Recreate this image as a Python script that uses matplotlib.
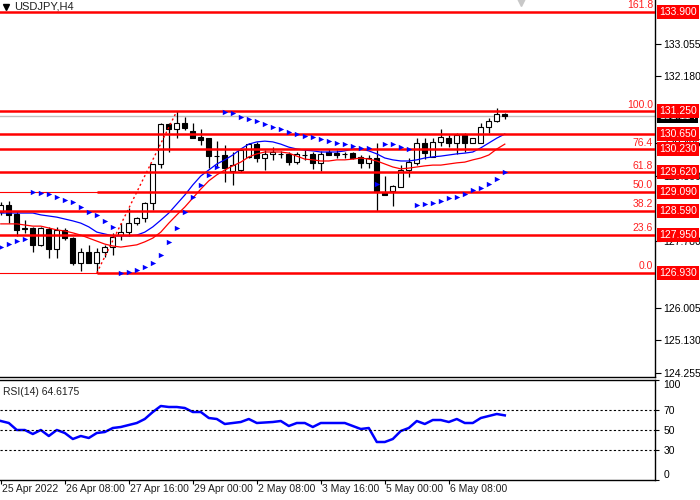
import matplotlib.pyplot as plt
from matplotlib.transforms import blended_transform_factory

plt.rcParams['font.family'] = ['Liberation Sans', 'DejaVu Sans']

# USDJPY H4 bars, first bar = 25 Apr 2022 00:00
opens = [128.56, 128.74, 128.50, 128.13, 128.13, 127.68, 128.10, 127.57, 128.08, 127.86,
         127.19, 127.49, 127.19, 127.49, 127.62, 127.94, 128.02, 128.26, 128.40, 128.80,
         129.84, 130.91, 130.77, 130.94, 130.72, 130.56, 130.53, 130.05, 130.08, 129.65,
         129.68, 130.03, 130.37, 130.00, 130.11, 130.11, 130.11, 129.89, 130.08, 130.11,
         129.87, 130.16, 130.13, 130.11, 130.13, 130.03, 129.87, 130.00, 129.06, 129.12,
         129.22, 129.68, 129.87, 130.40, 130.03, 130.43, 130.53, 130.40, 130.61, 130.40,
         130.40, 130.83, 130.99, 131.18]
highs = [128.82, 128.85, 128.58, 128.34, 128.16, 128.16, 128.16, 128.16, 128.13, 127.89,
         127.60, 127.68, 127.60, 127.68, 128.00, 128.26, 128.66, 128.42, 128.82, 129.84,
         130.94, 130.94, 131.25, 131.10, 130.94, 130.77, 130.53, 130.45, 130.35, 130.16,
         130.21, 130.40, 130.43, 130.21, 130.29, 130.19, 130.16, 130.16, 130.24, 130.16,
         130.19, 130.24, 130.21, 130.16, 130.16, 130.08, 130.08, 130.40, 129.52, 129.28,
         129.81, 130.00, 130.53, 130.53, 130.53, 130.77, 130.61, 130.67, 130.67, 130.53,
         130.94, 131.07, 131.34, 131.20]
lows = [128.48, 128.26, 127.92, 128.00, 127.49, 127.65, 127.33, 127.33, 127.81, 127.14,
        126.98, 127.19, 126.93, 127.36, 127.41, 127.81, 127.92, 128.21, 128.29, 128.61,
        129.73, 130.16, 130.53, 130.75, 130.53, 130.35, 129.73, 129.76, 129.36, 129.28,
        129.63, 130.00, 129.89, 129.68, 129.95, 130.00, 129.81, 129.84, 129.95, 129.71,
        129.65, 130.08, 130.00, 130.00, 129.97, 129.73, 129.73, 128.58, 129.01, 128.72,
        129.22, 129.49, 129.81, 129.97, 130.03, 130.32, 130.29, 130.11, 130.16, 130.40,
        130.40, 130.67, 130.96, 131.04]
closes = [128.74, 128.48, 128.08, 128.10, 127.68, 128.13, 127.57, 128.08, 127.86, 127.19,
          127.49, 127.19, 127.49, 127.62, 127.89, 128.02, 128.26, 128.40, 128.80, 129.84,
          130.91, 130.77, 130.94, 130.80, 130.53, 130.48, 130.05, 130.06, 129.73, 129.81,
          130.21, 130.37, 130.00, 130.11, 130.16, 130.10, 129.89, 130.11, 130.07, 129.87,
          130.11, 130.08, 130.08, 130.10, 130.00, 129.87, 130.00, 129.12, 129.01, 129.25,
          129.68, 129.89, 130.40, 130.13, 130.43, 130.56, 130.40, 130.61, 130.40, 130.53,
          130.83, 130.99, 131.18, 131.11]

ma_blue = [128.53, 128.53, 128.53, 128.53, 128.53, 128.48, 128.45, 128.42, 128.37, 128.32,
           128.26, 128.16, 128.02, 127.97, 127.92, 127.92, 127.92, 127.94, 128.02, 128.16,
           128.34, 128.53, 128.77, 129.01, 129.28, 129.52, 129.68, 129.84, 129.95, 130.08,
           130.24, 130.37, 130.43, 130.45, 130.43, 130.37, 130.29, 130.24, 130.21, 130.19,
           130.16, 130.16, 130.16, 130.19, 130.24, 130.24, 130.19, 130.11, 130.00, 129.95,
           129.92, 129.92, 129.95, 130.00, 130.03, 130.05, 130.08, 130.11, 130.13, 130.16,
           130.27, 130.40, 130.53, 130.64]
ma_red = [128.24, 128.24, 128.24, 128.21, 128.18, 128.18, 128.13, 128.08, 128.05, 128.00,
          127.94, 127.86, 127.78, 127.70, 127.65, 127.62, 127.65, 127.68, 127.76, 127.86,
          128.02, 128.26, 128.48, 128.69, 128.93, 129.17, 129.39, 129.55, 129.68, 129.79,
          129.89, 130.03, 130.11, 130.16, 130.16, 130.16, 130.13, 130.05, 129.97, 129.95,
          129.92, 129.92, 129.95, 129.95, 129.97, 130.00, 129.97, 129.92, 129.84, 129.76,
          129.71, 129.73, 129.76, 129.79, 129.81, 129.81, 129.84, 129.87, 129.89, 129.95,
          130.00, 130.08, 130.24, 130.37]
sar = [127.62, 127.70, 127.78, 127.84, 129.09, 129.06, 129.04, 128.96, 128.88, 128.82,
       128.69, 128.56, 128.48, 128.32, 128.16, 126.93, 126.95, 127.01, 127.09, 127.19,
       127.41, 127.76, 128.13, 128.56, 128.96, 129.28, 129.55, 129.76, 131.23, 131.20,
       131.10, 131.04, 130.99, 130.91, 130.83, 130.77, 130.69, 130.64, 130.59, 130.56,
       130.51, 130.45, 130.40, 130.37, 130.32, 130.27, 130.27, 129.30, 130.37, 130.37,
       130.29, 130.24, 128.74, 128.77, 128.80, 128.85, 128.93, 128.96, 129.04, 129.14,
       129.20, 129.30, 129.44, 129.63]
rsi = [59, 57, 50, 50, 46, 50, 44, 50, 47, 41,
       44, 42, 47, 48, 52, 53, 55, 57, 61, 68,
       74, 73, 73, 72, 68, 68, 62, 61, 56, 57,
       58, 61, 57, 57.5, 58, 59, 54, 57, 57, 53,
       57, 57, 57, 57, 54, 51, 52, 38, 38, 41,
       49, 52, 59, 56, 60, 60, 58, 61, 57, 57,
       62, 64, 66, 64.6175]

fib_levels = [133.900, 131.250, 130.230, 129.620, 129.090, 128.590, 127.950, 126.930]
fib_names = ['161.8', '100.0', '76.4', '61.8', '50.0', '38.2', '23.6', '0.0']
extra_level = 130.650
last_price = 131.114
price_ticks = [133.055, 132.180, 130.405, 129.530, 127.780, 126.005, 125.130, 124.255]
time_labels = ['25 Apr 2022', '26 Apr 08:00', '27 Apr 16:00', '29 Apr 00:00',
               '2 May 08:00', '3 May 16:00', '5 May 00:00', '6 May 08:00']
time_bars = [0, 8, 16, 24, 32, 40, 48, 56]
trend_bars = [12, 22]
trend_prices = [126.93, 131.25]

fig = plt.figure(figsize=(7, 5), dpi=100)
ax = fig.add_axes([0, 1 - 377 / 500, 655 / 700, 377 / 500])
ax2 = fig.add_axes([0, 1 - 480 / 500, 655 / 700, 100 / 500])

n = len(closes)
xs = list(range(n))

# candles
ax.vlines(xs, lows, highs, color='black', linewidth=0.9, zorder=2)
for i in range(n):
    up = closes[i] >= opens[i]
    bottom = min(opens[i], closes[i])
    h = abs(closes[i] - opens[i])
    ax.bar(i, h, bottom=bottom, width=0.62, color='white' if up else 'black',
           edgecolor='black', linewidth=0.8, zorder=2.2)

ax.plot(xs, ma_blue, color='#0000ff', linewidth=0.9, zorder=3)
ax.plot(xs, ma_red, color='#ff0000', linewidth=0.9, zorder=3)

# levels
for lv in fib_levels:
    if lv in (129.090, 126.930):
        ax.axhline(lv, color='red', linewidth=0.8, zorder=4)
        ax.hlines(lv, trend_bars[0], 90, color='red', linewidth=1.8, zorder=4)
    else:
        ax.axhline(lv, color='red', linewidth=1.8, zorder=4)
ax.axhline(extra_level, color='red', linewidth=1.8, zorder=4)
ax.axhline(last_price, color='#c0c0c0', linewidth=1, zorder=1)
ax.plot(trend_bars, trend_prices, color='red', linestyle=(0, (1.5, 2)), linewidth=1, zorder=4)

ax.scatter(xs, sar, marker='>', s=15, color='#0000ff', linewidths=0, zorder=5)

ax.set_xlim(-0.1, 655 / 8 - 0.1)
ax.set_ylim(124.15, 134.22)
ax.set_xticks([])
ax.yaxis.tick_right()
ax.set_yticks(price_ticks)
ax.set_yticklabels([f'{p:.3f}' for p in price_ticks])
ax.tick_params(axis='y', length=4, width=0.8, pad=2, labelsize=7.5)
for s in ax.spines.values():
    s.set_linewidth(1)
ax.spines['top'].set_visible(False)
ax.spines['left'].set_visible(False)

trans = blended_transform_factory(ax.transAxes, ax.transData)
for lv, name in zip(fib_levels, fib_names):
    ax.annotate(name, xy=(0.997, lv), xycoords=trans, xytext=(0, 1.2),
                textcoords='offset points', ha='right', va='bottom',
                color='#ff2020', fontsize=7.5, zorder=6)
ax.text(1.006, last_price, f'{last_price:.3f}', transform=trans, color='white',
        fontsize=7.5, ha='left', va='center', clip_on=False, zorder=5,
        bbox=dict(boxstyle='square,pad=0.2', fc='black', ec='none'))
for lv in fib_levels + [extra_level]:
    ax.text(1.006, lv, f'{lv:.3f}', transform=trans, color='white',
            fontsize=7.5, ha='left', va='center', clip_on=False, zorder=6,
            bbox=dict(boxstyle='square,pad=0.2', fc='red', ec='none'))

ax.text(0.021, 0.982, 'USDJPY,H4', transform=ax.transAxes, fontsize=8,
        color='#202020', ha='left', va='center')
ax.plot([0.009], [0.982], marker='v', markersize=4.5, color='black',
        transform=ax.transAxes, clip_on=False)
ax.plot([65], [1.0], marker='v', markersize=8, color='#c8c8c8',
        transform=blended_transform_factory(ax.transData, ax.transAxes), clip_on=False)

# RSI panel
ax2.plot(xs, rsi, color='#0000ff', linewidth=1.8)
for lv in (70, 50, 30):
    ax2.axhline(lv, color='black', linestyle=(0, (2, 2)), linewidth=0.8)
ax2.set_xlim(-0.1, 655 / 8 - 0.1)
ax2.set_ylim(0, 100)
ax2.yaxis.tick_right()
ax2.set_yticks([100, 70, 50, 30, 0])
ax2.set_yticklabels(['100', '70', '50', '30', '0'])
ax2.tick_params(axis='y', length=3, width=0.8, pad=3, labelsize=7.5)
ylabs = ax2.get_yticklabels()
ylabs[0].set_va('top')
ylabs[-1].set_va('bottom')
ax2.set_xticks(time_bars)
ax2.set_xticklabels([''] * len(time_bars))
ax2.tick_params(axis='x', length=3, width=0.8)
for s in ax2.spines.values():
    s.set_linewidth(1)
ax2.spines['left'].set_visible(False)
ax2.text(0.004, 0.93, 'RSI(14) 64.6175', transform=ax2.transAxes, fontsize=7.5,
         color='#202020', ha='left', va='top')
tx = blended_transform_factory(ax2.transData, ax2.transAxes)
for b, lab in zip(time_bars, time_labels):
    ax2.text(b + 0.2, -0.04, lab, transform=tx, fontsize=7.5, ha='left', va='top',
             color='#202020', clip_on=False)

fig.savefig('out.png', dpi=100)
